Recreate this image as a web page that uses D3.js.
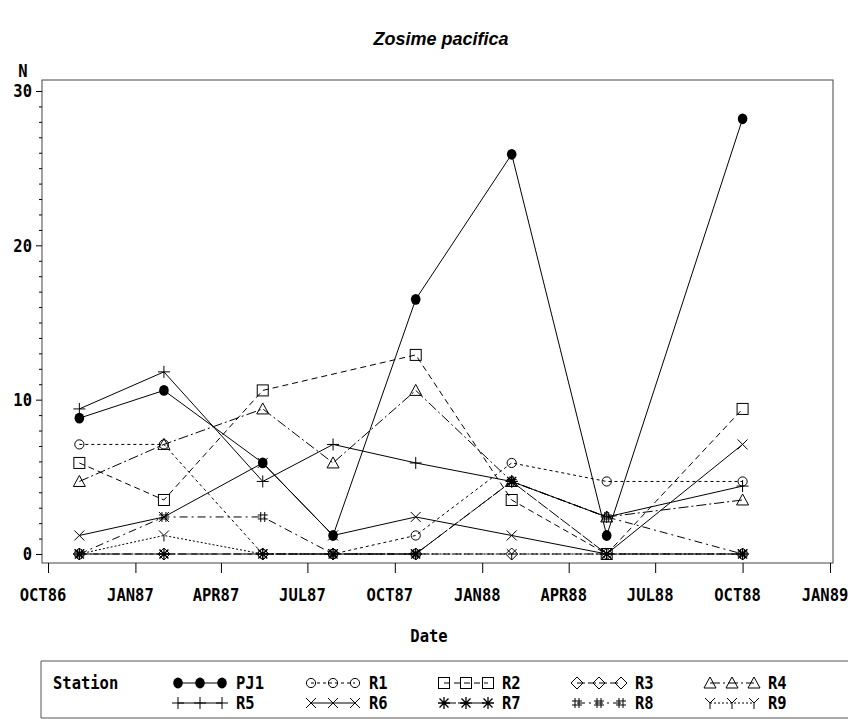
<!DOCTYPE html>
<html><head><meta charset="utf-8">
<script src="https://cdn.jsdelivr.net/npm/d3@7"></script>
<style>body{margin:0;background:#fff}svg{display:block}</style>
</head><body>
<svg id="c" width="848" height="719"></svg>
<script>
// ---- data ----
const sampleDates = ["1986-11-03","1987-01-31","1987-05-15","1987-07-28","1987-10-23","1988-02-01","1988-05-11","1988-10-01"];
const stations = ["PJ1","R1","R2","R3","R4","R5","R6","R7","R8","R9"];
const PJ1 = [8.8, 10.6, 5.9, 1.2, 16.5, 25.9, 1.2, 28.2];
const R1  = [7.1, 7.1, 0, 0, 1.2, 5.9, 4.7, 4.7];
const R2  = [5.9, 3.5, 10.6, null, 12.9, 3.5, 0, 9.4];
const R3  = [0, 0, 0, 0, 0, 0, 0, 0];
const R4  = [4.7, 7.1, 9.4, 5.9, 10.6, 4.7, 2.4, 3.5];
const R5  = [9.4, 11.8, 4.7, 7.1, 5.9, 4.7, 2.4, 4.4];
const R6  = [1.2, 2.4, 5.9, 1.2, 2.4, 1.2, 0, 7.1];
const R7  = [0, 0, 0, 0, 0, 4.7, 0, 0];
const R8  = [0, 2.4, 2.4, 0, 0, 4.7, 2.4, 0];
const R9  = [0, 1.2, 0, 0, 0, 0, 0, 0];
const xTickDates  = ["1986-10-01","1987-01-01","1987-04-01","1987-07-01","1987-10-01","1988-01-01","1988-04-01","1988-07-01","1988-10-01","1989-01-01"];
const xTickLabels = ["OCT86","JAN87","APR87","JUL87","OCT87","JAN88","APR88","JUL88","OCT88","JAN89"];
const yTicks = [0, 10, 20, 30];
const title = "Zosime pacifica";

const values = {PJ1,R1,R2,R3,R4,R5,R6,R7,R8,R9};
const parse = d3.utcParse("%Y-%m-%d");

// ---- styles ----
const dashes = {PJ1:null, R1:"3,3", R2:"6,4", R3:"8,3", R4:"10,3,2,3", R5:null, R6:null, R7:"12,2", R8:"8,4,2,4", R9:"2,2"};
const markerType = {PJ1:"dot", R1:"circle", R2:"square", R3:"diamond", R4:"triangle", R5:"plus", R6:"x", R7:"star", R8:"hash", R9:"y"};

const svg = d3.select("#c");
const x = d3.scaleUtc().domain([parse(xTickDates[0]), parse(xTickDates[xTickDates.length-1])]).range([48, 830]);
const y = d3.scaleLinear().domain([0, 30]).range([554, 91]);

const monoFont = "'DejaVu Sans Mono', monospace";
function monoText(g, tx, ty, str, anchor){
  return g.append("text").attr("transform",`translate(${tx},${ty}) scale(1,1.16)`)
    .attr("text-anchor",anchor||"start").attr("dominant-baseline","central")
    .attr("font-family",monoFont).attr("font-weight","bold").attr("font-size",15.5).text(str);
}

// frame
const fx0 = 42, fx1 = 833, fy0 = 80, fy1 = 563;
svg.append("rect").attr("x", fx0).attr("y", fy0).attr("width", fx1-fx0).attr("height", fy1-fy0)
  .attr("fill","none").attr("stroke","#444").attr("stroke-width",1);

// title
svg.append("text").attr("x", 441).attr("y", 45).attr("text-anchor","middle")
  .attr("font-family","'Liberation Sans', Arial, sans-serif").attr("font-weight","bold").attr("font-style","italic")
  .attr("font-size",18).text(title);

// y axis
const yAxis = d3.axisLeft(y).tickValues(yTicks).tickSize(6).tickFormat("");
const gy = svg.append("g").attr("transform",`translate(${fx0},0)`).call(yAxis);
gy.select(".domain").remove();
gy.selectAll("line").attr("stroke","#000");
yTicks.forEach(v=>monoText(svg, 32, y(v), String(v), "end"));
const yMinor = d3.axisLeft(y).tickValues(d3.range(0,31,1).filter(v=>v%10)).tickSize(3).tickFormat("");
const gym = svg.append("g").attr("transform",`translate(${fx0},0)`).call(yMinor);
gym.select(".domain").remove();
gym.selectAll("line").attr("stroke","#000");
monoText(svg, 23, 71, "N", "middle");

// x axis
const xAxis = d3.axisBottom(x).tickValues(xTickDates.map(parse)).tickSize(10).tickFormat("");
const gx = svg.append("g").attr("transform",`translate(0,${fy1})`).call(xAxis);
gx.select(".domain").remove();
gx.selectAll("line").attr("stroke","#000");
xTickDates.forEach((d,i)=>monoText(svg, x(parse(d))-5, 595, xTickLabels[i], "middle"));
monoText(svg, 429, 636, "Date", "middle");

// markers
function drawMarker(g, type){
  const s = "#000";
  switch(type){
    case "dot": g.append("ellipse").attr("rx",4.8).attr("ry",5.4).attr("fill",s); break;
    case "circle": g.append("circle").attr("r",4.6).attr("fill","none").attr("stroke",s); break;
    case "square": g.append("rect").attr("x",-5.5).attr("y",-5.5).attr("width",11).attr("height",11).attr("fill","none").attr("stroke",s); break;
    case "diamond": g.append("path").attr("d","M0,-6L6,0L0,6L-6,0Z").attr("fill","none").attr("stroke",s); break;
    case "triangle": g.append("path").attr("d","M0,-6L6,5L-6,5Z").attr("fill","none").attr("stroke",s); break;
    case "plus": g.append("path").attr("d","M-6,0H6M0,-6V6").attr("fill","none").attr("stroke",s); break;
    case "x": g.append("path").attr("d","M-5,-5L5,5M-5,5L5,-5").attr("fill","none").attr("stroke",s); break;
    case "star": g.append("path").attr("d","M-6,0H6M0,-6V6M-4.5,-4.5L4.5,4.5M-4.5,4.5L4.5,-4.5").attr("fill","none").attr("stroke",s).attr("stroke-width",1.3); break;
    case "hash": g.append("path").attr("d","M-2,-5V5M2,-5V5M-5,-2H5M-5,2H5").attr("fill","none").attr("stroke",s); break;
    case "y": g.append("path").attr("d","M-5,-5L0,0L5,-5M0,0V6").attr("fill","none").attr("stroke",s); break;
  }
}

const line = d3.line().x(d=>x(d.date)).y(d=>y(d.v));
const plot = svg.append("g");
stations.forEach(st=>{
  const pts = values[st].map((v,i)=>({date:parse(sampleDates[i]), v})).filter(d=>d.v!==null);
  plot.append("path").datum(pts).attr("d",line).attr("fill","none").attr("stroke","#000").attr("stroke-width",1)
    .attr("stroke-dasharray",dashes[st]);
});
stations.slice().reverse().forEach(st=>{
  values[st].forEach((v,i)=>{
    if(v===null) return;
    const g = plot.append("g").attr("transform",`translate(${x(parse(sampleDates[i]))},${y(v)})`);
    drawMarker(g, markerType[st]);
  });
});

// legend
const lg = svg.append("g");
lg.append("path").attr("d","M848,661H41V718H848").attr("fill","none").attr("stroke","#555").attr("stroke-width",1);
monoText(lg, 53, 683, "Station", "start");
stations.forEach((st,i)=>{
  const col = i%5, row = Math.floor(i/5);
  const x0 = 178 + col*133, yy = 683 + row*20;
  lg.append("path").attr("d",`M${x0},${yy}H${x0+44}`).attr("stroke","#000").attr("stroke-width",1).attr("stroke-dasharray",dashes[st]);
  [0,22,44].forEach(dx=>{
    const g = lg.append("g").attr("transform",`translate(${x0+dx},${yy})`);
    drawMarker(g, markerType[st]);
  });
  monoText(lg, x0+58, yy, st, "start");
});
</script>
</body></html>
